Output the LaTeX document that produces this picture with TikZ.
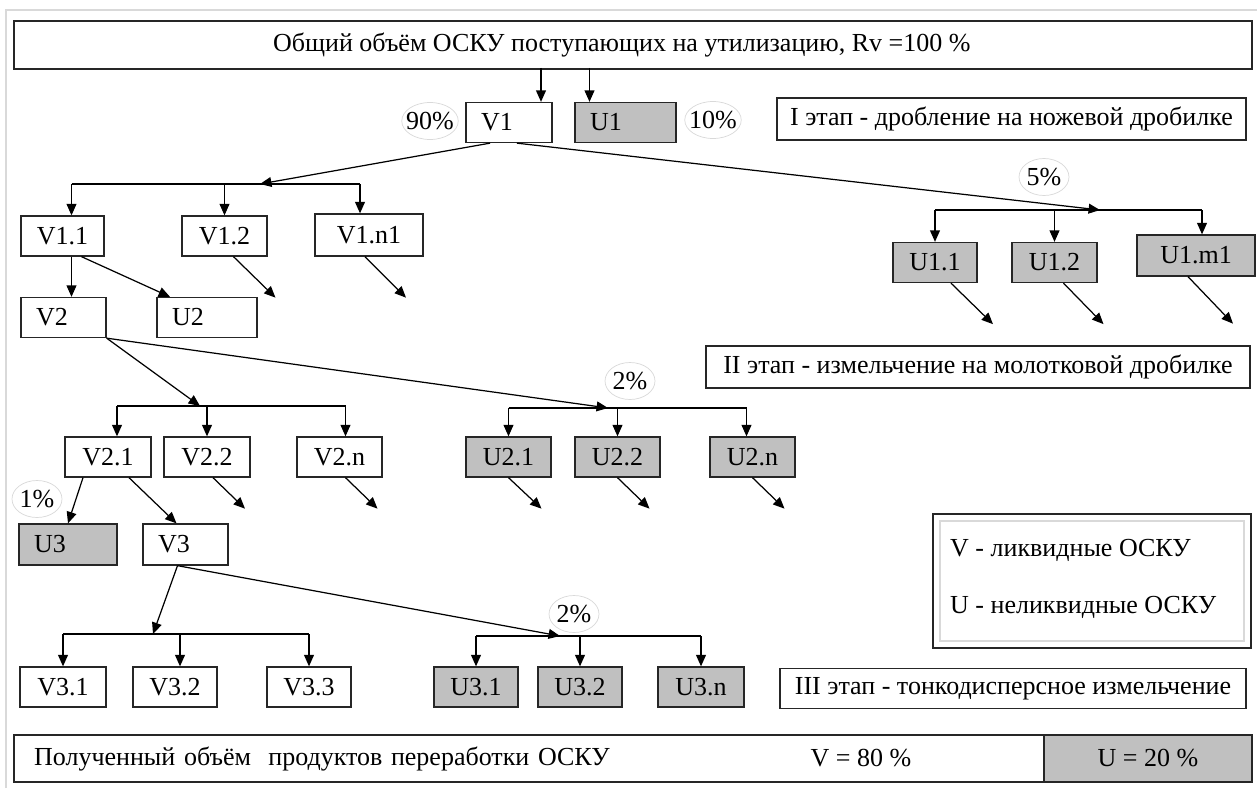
\documentclass[tikz,border=0pt]{standalone}
\usepackage{fontspec}
\setmainfont{Liberation Serif}
\usepackage{tikz}
\usetikzlibrary{arrows.meta,positioning,shapes.geometric,calc}
\definecolor{ushade}{RGB}{192,192,192}

\begin{document}
\begin{tikzpicture}[x=0.02cm,y=-0.02cm,font=\fontsize{14.8}{17}\selectfont,
    box/.style={draw=black!85,line width=0.75pt,minimum height=0.8cm,inner sep=0pt,align=center},
    ubox/.style={box,fill=ushade},
    lbox/.style={box,inner xsep=0.3cm,text width=#1,align=left},
    pct/.style={ellipse,draw=gray!30,fill=white,inner xsep=-2.2pt,inner ysep=0pt,minimum width=1cm,minimum height=0.74cm},
    arr/.style={-{Triangle[length=6.5pt,width=5.6pt]},line width=0.7pt},
    bus/.style={line width=0.7pt}]

    \useasboundingbox (0,0) rectangle (1257,788);
    \draw[gray!30,line width=0.8pt] (6,788) -- (6,10) -- (1257,10);

    \node[box,minimum width=24.76cm,minimum height=0.96cm] (total) at (633,45) {Общий объём ОСКУ поступающих на утилизацию, Rv =100 \%\hspace{0.45cm}};

    % I stage
    \node[lbox=1.12cm] (v1) at (509,122.5) {V1};
    \node[lbox=1.42cm,fill=ushade] (u1) at (625.5,122.5) {U1};
    \node[pct] (p90) at (430,121) {90\%};
    \node[pct] (p10) at (713,120) {10\%};
    \node[box,minimum width=9.38cm,minimum height=0.84cm] (stage1) at (1011.5,119) {I этап - дробление на ножевой дробилке};

    \node[box,minimum width=1.66cm] (v11) at (62.5,236) {V1.1};
    \node[box,minimum width=1.7cm] (v12) at (224.5,236) {V1.2};
    \node[box,minimum width=2.16cm,minimum height=0.84cm] (v1n) at (369,235) {V1.n1};
    \node[ubox,minimum width=1.68cm] (u11) at (935,262.5) {U1.1};
    \node[ubox,minimum width=1.7cm] (u12) at (1054.5,262.5) {U1.2};
    \node[ubox,minimum width=2.36cm,minimum height=0.82cm] (u1m) at (1196,255.5) {U1.m1};

    \draw[arr] ($(v1.north)+(32,-34)$) -- ($(v1.north)+(32,0)$);
    \draw[arr] ($(u1.north)+(-36,-34)$) -- ($(u1.north)+(-36,0)$);

    \coordinate (b1) at (260,184);
    \draw[arr] ($(v1.south)+(-19,0)$) -- (b1);
    \draw[bus] ($(v11.north|-b1)+(9,0)$) -- ($(v1n.north|-b1)+(-9,0)$);
    \draw[arr] ($(v11.north|-b1)+(9,0)$) -- ($(v11.north)+(9,0)$);
    \draw[arr] (v12.north|-b1) -- (v12.north);
    \draw[arr] ($(v1n.north|-b1)+(-9,0)$) -- ($(v1n.north)+(-9,0)$);

    \coordinate (b2) at (1100,210);
    \draw[arr] ($(v1.south)+(8,0)$) -- (b2);
    \draw[bus] (u11.north|-b2) -- ($(u1m.north|-b2)+(6,0)$);
    \draw[arr] (u11.north|-b2) -- (u11.north);
    \draw[arr] (u12.north|-b2) -- (u12.north);
    \draw[arr] ($(u1m.north|-b2)+(6,0)$) -- ($(u1m.north)+(6,0)$);
    \node[pct] (p5) at (1044,177) {5\%};

    \draw[arr] ($(v12.south)+(9,0)$) -- ++(42,41);
    \draw[arr] ($(v1n.south)+(-4,0)$) -- ++(41,41);
    \draw[arr] ($(u11.south)+(16,0)$) -- ++(42,41);
    \draw[arr] ($(u12.south)+(9,0)$) -- ++(40,41);
    \draw[arr] ($(u1m.south)+(-8,0)$) -- ++(45,47);

    % II stage
    \node[lbox=1.1cm] (v2) at (63.5,317.5) {V2};
    \node[lbox=1.4cm] (u2) at (207,317.5) {U2};
    \node[box,minimum width=10.88cm,minimum height=0.84cm] (stage2) at (978,367) {II этап - измельчение на молотковой дробилке};

    \draw[arr] ($(v11.south)+(9,0)$) -- ($(v2.north)+(8,0)$);
    \draw[arr] ($(v11.south)+(19,0)$) -- ($(u2.north)+(-37,0)$);

    \node[box,minimum width=1.72cm] (v21) at (108,457) {V2.1};
    \node[box,minimum width=1.72cm] (v22) at (207,457) {V2.2};
    \node[box,minimum width=1.7cm] (v2n) at (339.5,457) {V2.n};
    \node[ubox,minimum width=1.7cm] (u21) at (508.5,457) {U2.1};
    \node[ubox,minimum width=1.7cm] (u22) at (617.5,457) {U2.2};
    \node[ubox,minimum width=1.7cm] (u2n) at (752.5,457) {U2.n};

    \coordinate (b3) at (200,406);
    \coordinate (b4) at (608,408);
    \draw[arr] (v2.south east) -- (b3);
    \draw[arr] (v2.south east) -- (b4);
    \draw[bus] ($(v21.north|-b3)+(9,0)$) -- ($(v2n.north|-b3)+(6,0)$);
    \draw[arr] ($(v21.north|-b3)+(9,0)$) -- ($(v21.north)+(9,0)$);
    \draw[arr] (v22.north|-b3) -- (v22.north);
    \draw[arr] ($(v2n.north|-b3)+(6,0)$) -- ($(v2n.north)+(6,0)$);
    \draw[bus] (u21.north|-b4) -- ($(u2n.north|-b4)+(-6,0)$);
    \draw[arr] (u21.north|-b4) -- (u21.north);
    \draw[arr] (u22.north|-b4) -- (u22.north);
    \draw[arr] ($(u2n.north|-b4)+(-6,0)$) -- ($(u2n.north)+(-6,0)$);
    \node[pct] (p2a) at (630,381) {2\%};

    \node[lbox=1.36cm,fill=ushade,minimum height=0.82cm] (u3) at (68,544.5) {U3};
    \node[lbox=1.1cm,minimum height=0.82cm] (v3) at (185.5,544.5) {V3};
    \node[pct] (p1) at (37,499) {1\%};

    \draw[arr] ($(v21.south)+(-25,0)$) -- (u3.north);
    \draw[arr] ($(v21.south)+(21,0)$) -- ($(v3.north)+(-9,0)$);
    \draw[arr] ($(v22.south)+(6,0)$) -- ++(32,31);
    \draw[arr] ($(v2n.south)+(6,0)$) -- ++(32,31);
    \draw[arr] (u21.south) -- ++(33,31);
    \draw[arr] (u22.south) -- ++(32,31);
    \draw[arr] (u2n.south) -- ++(32,31);

    % legend
    \node[box,minimum width=6.36cm,minimum height=2.68cm] (legend) at (1092,581) {};
    \node[draw=gray!30,line width=0.7pt,minimum width=6.08cm,minimum height=2.4cm] (legin) at (legend) {};
    \node[anchor=west] (legv) at (944,550) {V - ликвидные ОСКУ};
    \node[anchor=west] (legu) at (944,607) {U - неликвидные ОСКУ};

    % III stage
    \node[box,minimum width=1.72cm] (v31) at (63,687) {V3.1};
    \node[box,minimum width=1.68cm] (v32) at (175,687) {V3.2};
    \node[box,minimum width=1.68cm] (v33) at (309,687) {V3.3};
    \node[ubox,minimum width=1.68cm] (u31) at (476,687) {U3.1};
    \node[ubox,minimum width=1.68cm] (u32) at (580,687) {U3.2};
    \node[ubox,minimum width=1.72cm] (u3n) at (701,687) {U3.n};
    \node[box,minimum width=9.32cm] (stage3) at (1013,688.5) {III этап - тонкодисперсное измельчение};

    \coordinate (b5) at (153,634);
    \coordinate (b6) at (560,636);
    \draw[arr] ($(v3.south)+(-8,0)$) -- (b5);
    \draw[arr] ($(v3.south)+(-8,0)$) -- (b6);
    \draw[bus] (v31.north|-b5) -- (v33.north|-b5);
    \draw[arr] (v31.north|-b5) -- (v31.north);
    \draw[arr] ($(v32.north|-b5)+(5,0)$) -- ($(v32.north)+(5,0)$);
    \draw[arr] (v33.north|-b5) -- (v33.north);
    \draw[bus] (u31.north|-b6) -- (u3n.north|-b6);
    \draw[arr] (u31.north|-b6) -- (u31.north);
    \draw[arr] (u32.north|-b6) -- (u32.north);
    \draw[arr] (u3n.north|-b6) -- (u3n.north);
    \node[pct] (p2b) at (574,614) {2\%};

    % result
    \node[lbox=19.8cm,inner xsep=0.4cm,minimum height=0.94cm] (result) at (529,758.5) {Полученный объём\ \ продуктов переработки ОСКУ};
    \node (resv) at (861,758.5) {V = 80 \%};
    \node[ubox,minimum width=4.16cm,minimum height=0.94cm] (resu) at (1148,758.5) {U = 20 \%};
\end{tikzpicture}
\end{document}
